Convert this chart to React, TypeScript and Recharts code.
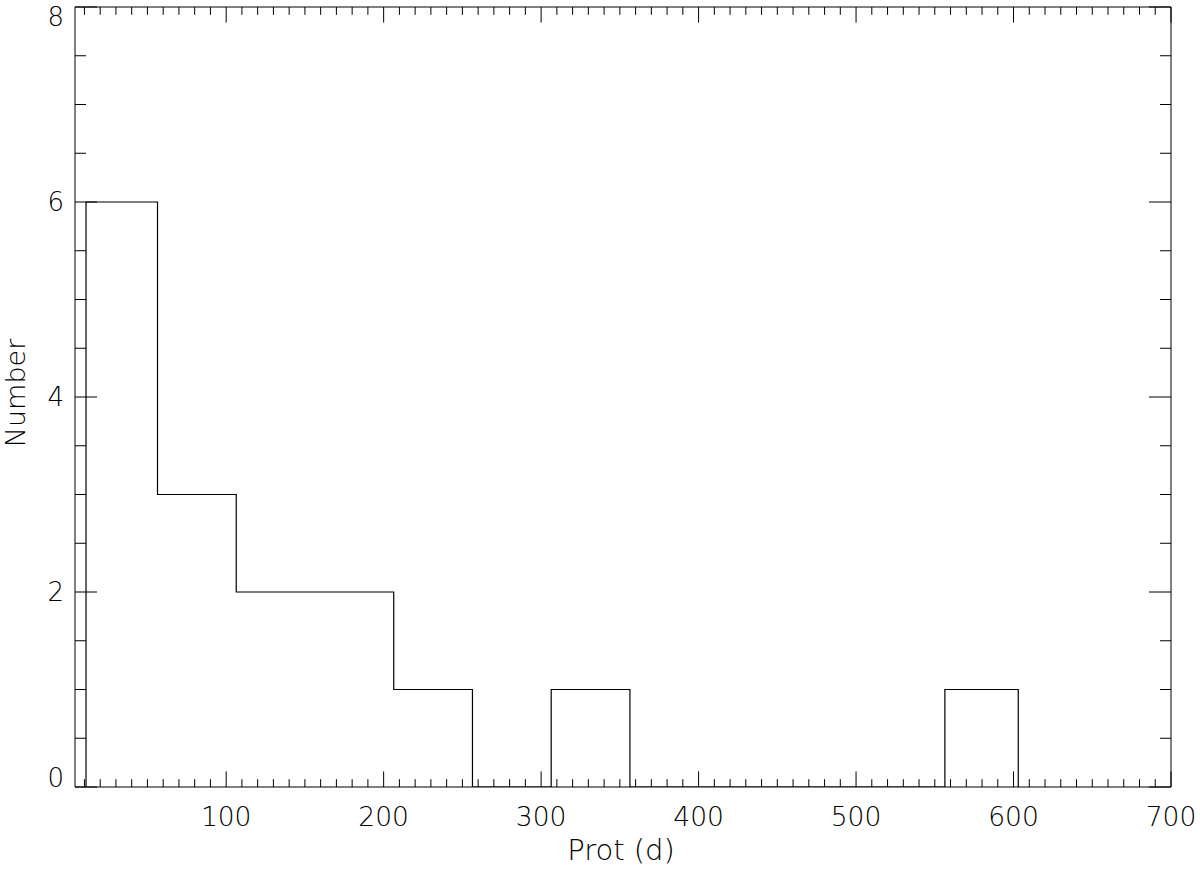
import React from 'react';
import { LineChart, Line, XAxis, YAxis } from 'recharts';

// histogram of rotation periods (bin edges in days, counts per bin)
const binEdges = [11, 56.4, 106.4, 156.4, 206.4, 256.4, 306.4, 356.4, 406.4, 456.4, 506.4, 556.4, 603];
const binCounts = [6, 3, 2, 2, 1, 0, 1, 0, 0, 0, 0, 1];

const xMajorTicks = [100, 200, 300, 400, 500, 600, 700];
const yMajorTicks = [0, 2, 4, 6, 8];

// minor ticks every 10 d on x, every 0.5 on y
const xAllTicks = Array.from({ length: 70 }, (_, i) => (i + 1) * 10);
const yAllTicks = Array.from({ length: 17 }, (_, i) => i * 0.5);

const FONT = '"DejaVu Sans", sans-serif';
const TEXT = '#000';
const WEIGHT = 200;

// outline points of the step histogram
const steps: { x: number; y: number }[] = [{ x: binEdges[0], y: 0 }];
binCounts.forEach((c, i) => {
    steps.push({ x: binEdges[i], y: c });
    steps.push({ x: binEdges[i + 1], y: c });
});
steps.push({ x: binEdges[binEdges.length - 1], y: 0 });

type Side = 'bottom' | 'top' | 'left' | 'right';

const makeTick = (side: Side) => (props: any) => {
    const { x, y, payload } = props;
    const v = payload.value;
    const isX = side === 'bottom' || side === 'top';
    const major = isX ? xMajorTicks.includes(v) : yMajorTicks.includes(v);
    const len = isX ? (major ? 15.6 : 7.8) : (major ? 22 : 11);
    let x2 = x, y2 = y;
    if (side === 'bottom') y2 = y - len;
    if (side === 'top') y2 = y + len;
    if (side === 'left') x2 = x + len;
    if (side === 'right') x2 = x - len;
    let label = null;
    if (major && side === 'bottom') {
        label = (
            <text x={x} y={y + 39} textAnchor="middle" fontSize={26.5} fontFamily={FONT} fontWeight={WEIGHT} fill={TEXT}>
                {v}
            </text>
        );
    }
    if (major && side === 'left') {
        // IDL nudges the end labels inside the frame
        const dy = v === 0 ? -9 : v === 8 ? 10 : 0;
        label = (
            <text x={x - 11} y={y + dy + 9} textAnchor="end" fontSize={26} fontFamily={FONT} fontWeight={WEIGHT} fill={TEXT}>
                {v}
            </text>
        );
    }
    return (
        <g>
            <line x1={x} y1={y} x2={x2} y2={y2} stroke="#000" strokeWidth={1} />
            {label}
        </g>
    );
};

const App: React.FC = () => {
    return (
        <div style={{ position: 'absolute', left: 0, top: 0, width: 1200, height: 870, background: '#fff' }}>
            <LineChart width={1200} height={870} margin={{ top: 6, right: 28, bottom: 82, left: 74 }}>
                <XAxis
                    xAxisId="b"
                    type="number"
                    dataKey="x"
                    orientation="bottom"
                    domain={[4, 700]}
                    allowDataOverflow
                    ticks={xAllTicks}
                    interval={0}
                    height={1}
                    tickSize={0}
                    tickMargin={0}
                    tickLine={false}
                    axisLine={{ stroke: '#000' }}
                    tick={makeTick('bottom')}
                    label={{
                        content: () => (
                            <text x={621} y={860} textAnchor="middle" fontSize={29} fontFamily={FONT} fontWeight={WEIGHT} fill={TEXT}>
                                Prot (d)
                            </text>
                        ),
                    }}
                />
                <XAxis
                    xAxisId="t"
                    type="number"
                    dataKey="x"
                    orientation="top"
                    domain={[4, 700]}
                    allowDataOverflow
                    ticks={xAllTicks}
                    interval={0}
                    height={1}
                    tickSize={0}
                    tickMargin={0}
                    tickLine={false}
                    axisLine={{ stroke: '#000' }}
                    tick={makeTick('top')}
                />
                <YAxis
                    yAxisId="l"
                    type="number"
                    orientation="left"
                    domain={[0, 8]}
                    allowDataOverflow
                    ticks={yAllTicks}
                    interval={0}
                    width={1}
                    tickSize={0}
                    tickMargin={0}
                    tickLine={false}
                    axisLine={{ stroke: '#000' }}
                    tick={makeTick('left')}
                    label={{
                        content: () => (
                            <text
                                x={25}
                                y={393}
                                transform="rotate(-90 25 393)"
                                textAnchor="middle"
                                fontSize={27}
                                fontFamily={FONT}
                                fontWeight={WEIGHT}
                                fill={TEXT}
                            >
                                Number
                            </text>
                        ),
                    }}
                />
                <YAxis
                    yAxisId="r"
                    type="number"
                    orientation="right"
                    domain={[0, 8]}
                    allowDataOverflow
                    ticks={yAllTicks}
                    interval={0}
                    width={1}
                    tickSize={0}
                    tickMargin={0}
                    tickLine={false}
                    axisLine={{ stroke: '#000' }}
                    tick={makeTick('right')}
                />
                <Line
                    xAxisId="b"
                    yAxisId="l"
                    data={steps}
                    dataKey="y"
                    type="linear"
                    stroke="#000"
                    strokeWidth={1.2}
                    dot={false}
                    activeDot={false}
                    isAnimationActive={false}
                />
                {/* same outline on the mirrored axes, invisible; keeps the top/right axes populated */}
                <Line
                    xAxisId="t"
                    yAxisId="r"
                    data={steps}
                    dataKey="y"
                    type="linear"
                    stroke="none"
                    dot={false}
                    activeDot={false}
                    legendType="none"
                    isAnimationActive={false}
                />
            </LineChart>
        </div>
    );
};

export default App;
